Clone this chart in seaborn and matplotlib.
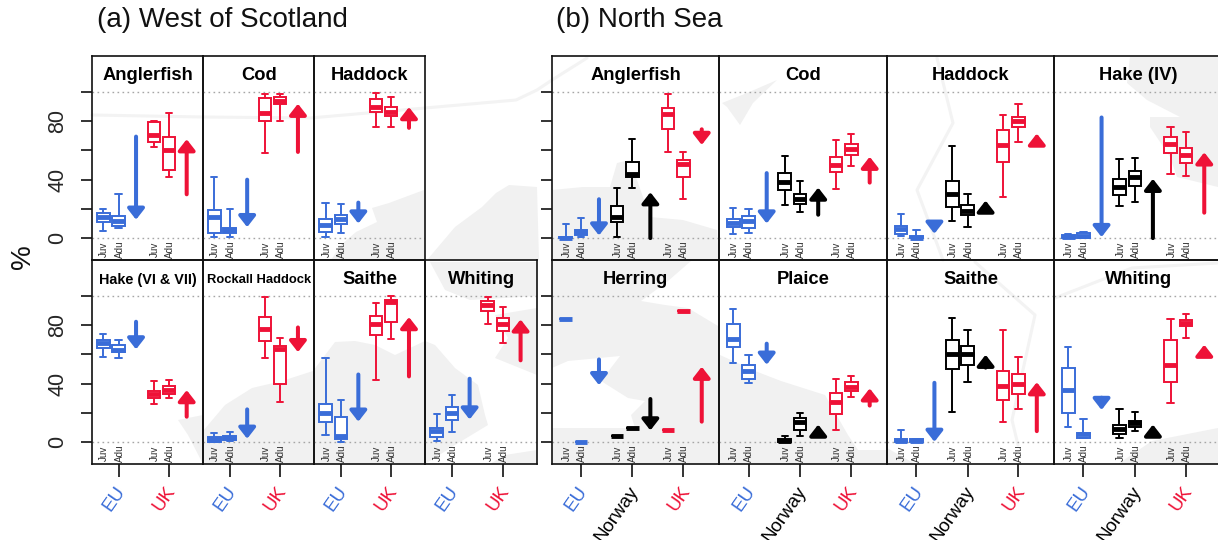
"""
Catch share boxplots by stock and party, West of Scotland and North Sea.
Every box is five numbers: whisker low, Q1, median, Q3, whisker high.
"""

import numpy as np
import pandas as pd
import matplotlib
matplotlib.use("Agg")
import matplotlib.pyplot as plt
from matplotlib.patches import Polygon
from matplotlib.transforms import ScaledTranslation
import seaborn as sns

# ── Colours ───────────────────────────────────────────────
BLUE = "#3A6DD8"
RED = "#EE1237"
BLACK = "#000000"
MAP_GREY = "#F1F1F1"
MAP_LINE_GREY = "#F3F3F3"

# ── West of Scotland: boxes are EU Juv, EU Adu, UK Juv, UK Adu ─
WS_ANGLER = [[4.8, 11, 14.5, 17, 20], [7, 8.5, 12, 15.4, 30.5],
             [62.6, 65.6, 70.6, 79.4, 80], [42, 46.6, 60.3, 69.5, 86]]
WS_ANGLER_ARROWS = [[69.5, 12.6], [30, 67.7]]
WS_COD = [[0.5, 3.4, 14.4, 19.5, 41.7], [0.7, 3.4, 5.3, 7, 20],
          [58, 80, 85.5, 96, 99], [80, 92, 94, 96.5, 99]]
WS_COD_ARROWS = [[40, 7.5], [59, 92]]
WS_HADDOCK = [[0.5, 4.4, 8.7, 13, 24], [3.7, 9.6, 13.3, 15.8, 23.6],
              [76, 86.5, 90, 95, 99.5], [76.4, 83.5, 86.5, 90, 96.3]]
WS_HADDOCK_ARROWS = [[24.3, 10], [75.5, 89.7]]
WS_HAKE = [[58, 64.6, 67.6, 70, 73.7], [57.3, 61.6, 63, 66.7, 70],
           [26, 30, 33, 35, 41.8], [30, 33, 35.6, 38.4, 42.5]]
WS_HAKE_ARROWS = [[82.4, 63.5], [17.4, 35.6]]
WS_ROCKALL = [[0.3, 0.3, 2, 3.4, 6], [0.7, 1.1, 2.5, 4.3, 7],
              [57.3, 69, 77.6, 85.6, 99.5], [27.6, 40, 63.5, 65.7, 71]]
WS_ROCKALL_ARROWS = [[22.4, 2.3], [78.5, 61.6]]
WS_SAITHE = [[5, 13.5, 20, 26, 57.5], [0.2, 2, 4, 17.4, 29],
             [42.5, 73, 81, 86.3, 95], [70.8, 82, 96, 97.5, 99.8]]
WS_SAITHE_ARROWS = [[46.3, 14], [45, 85.6]]
WS_WHITING = [[0.5, 3.4, 7.3, 9.6, 19], [7, 15, 20, 23.7, 32],
              [81, 90, 94, 96.6, 99.3], [67.8, 76, 81, 84.7, 92.7]]
WS_WHITING_ARROWS = [[43.4, 15.5], [56, 84]]

# ── North Sea: EU, Norway, UK, each Juv then Adu ──────────
NS_ANGLER = [[0, 0, 0.2, 1, 9.4], [0.9, 2.3, 4, 5.7, 13.8],
             [0.5, 11, 14.2, 21.8, 34.6], [34, 42, 43.6, 52.3, 68],
             [59, 75, 85, 88.8, 99], [26.8, 41.5, 51, 53.7, 59]]
NS_ANGLER_ARROWS = [[26.6, 1.8], [0, 31.4], [74.5, 63.8]]
NS_COD = [[3, 7.6, 10.5, 13.3, 20.6], [3.7, 7, 11.7, 15, 19.7],
          [23, 32.6, 38.5, 44.5, 56], [18, 23.4, 26.6, 30.5, 39],
          [33.7, 45, 50, 55.7, 67], [49.5, 57, 61, 64.7, 71.6]]
NS_COD_ARROWS = [[44.5, 10], [16, 34.6], [38, 55.7]]
NS_HADDOCK = [[1.6, 3, 6.4, 8, 16.5], [0, 0, 0.2, 1.6, 5.7],
              [12, 21.3, 30.5, 39, 63.3], [7.6, 15.6, 18.6, 22.7, 30.5],
              [28, 51.8, 64, 73.9, 84], [65.8, 76, 80, 83, 91.5]]
NS_HADDOCK_ARROWS = [[11, 3], [18.3, 25.7], [64.2, 71.6]]
NS_HAKE = [[0, 0, 0.5, 2.3, 3], [0.2, 0.2, 1.6, 3.7, 4],
           [22, 29.6, 35, 40.4, 54.4], [25, 36, 42, 46, 55],
           [44, 58, 64.4, 69, 76.4], [42.4, 51.4, 57, 62, 72.5]]
NS_HAKE_ARROWS = [[82.6, 0.7], [0, 40.6], [17.4, 58.7]]
NS_HERRING = [[84.2] * 5, [0.2] * 5, [4.3] * 5, [9.4] * 5, [8.4] * 5, [90] * 5]
NS_HERRING_ARROWS = [[56.6, 39], [29.5, 8], [14, 51.6]]
NS_PLAICE = [[54.3, 65, 70.8, 80.6, 91.3], [40.6, 43, 48.6, 53, 59.8],
             [0, 0, 0.5, 1.8, 3.9], [4.3, 8.4, 14, 16.4, 19.6],
             [8.4, 19.4, 27.6, 33.3, 43], [31, 35, 37.4, 40.9, 45]]
NS_PLAICE_ARROWS = [[67.4, 53], [5, 12], [25, 36.8]]
NS_SAITHE = [[0, 0, 0.9, 2.3, 8], [0, 0, 0.7, 1.8, 1.8],
             [20.8, 49.8, 60.3, 70, 84.7], [41.3, 53, 60, 66, 77],
             [14, 28.5, 38.4, 48.4, 77], [22.6, 33, 39.7, 46.3, 58]]
NS_SAITHE_ARROWS = [[40.6, 0.2], [51, 59.8], [7.5, 41]]
NS_WHITING = [[10, 19.6, 36, 51, 64.8], [3, 3, 5.3, 6.4, 15.8],
              [2.5, 5.7, 8.7, 11.4, 22.4], [7.3, 10.3, 13, 14.6, 20.8],
              [27, 40.9, 53, 70, 84], [71.2, 79.5, 81.7, 83.6, 87.9]]
NS_WHITING_ARROWS = [[30.4, 22], [4.8, 12], [59.4, 66.7]]

# name, boxes, arrows, title size
WS_TOP = [("Anglerfish", WS_ANGLER, WS_ANGLER_ARROWS, 13.2),
          ("Cod", WS_COD, WS_COD_ARROWS, 13.2),
          ("Haddock", WS_HADDOCK, WS_HADDOCK_ARROWS, 13.2)]
WS_BOTTOM = [("Hake (VI & VII)", WS_HAKE, WS_HAKE_ARROWS, 10.4),
             ("Rockall Haddock", WS_ROCKALL, WS_ROCKALL_ARROWS, 9.4),
             ("Saithe", WS_SAITHE, WS_SAITHE_ARROWS, 13.2),
             ("Whiting", WS_WHITING, WS_WHITING_ARROWS, 13.2)]
NS_TOP = [("Anglerfish", NS_ANGLER, NS_ANGLER_ARROWS, 13.2),
          ("Cod", NS_COD, NS_COD_ARROWS, 13.2),
          ("Haddock", NS_HADDOCK, NS_HADDOCK_ARROWS, 13.2),
          ("Hake (IV)", NS_HAKE, NS_HAKE_ARROWS, 13.2)]
NS_BOTTOM = [("Herring", NS_HERRING, NS_HERRING_ARROWS, 13.2),
             ("Plaice", NS_PLAICE, NS_PLAICE_ARROWS, 13.2),
             ("Saithe", NS_SAITHE, NS_SAITHE_ARROWS, 13.2),
             ("Whiting", NS_WHITING, NS_WHITING_ARROWS, 13.2)]

WS_PARTIES = ["EU", "UK"]
NS_PARTIES = ["EU", "Norway", "UK"]
PARTY_COLOURS = {"EU": BLUE, "Norway": BLACK, "UK": RED}
Y_TICKS = [0, 20, 40, 60, 80, 100]
Y_LABELS = ["0", "", "40", "", "80", ""]

# ── Layout (pixels of the 1218x540 picture) ───────────────
W, H = 1218, 540
TOP_ROW = (56, 260)
BOTTOM_ROW = (260, 464)
WS_EDGES = [92, 203, 314.3, 425.3, 537]
NS_EDGES = [551.7, 719.3, 887.3, 1054.3, 1221.8]
# slots along x in units of one box spacing
WS_SLOTS = {"EU": (0, 1, 2.14), "UK": (3.31, 4.29, 5.45)}
NS_SLOTS = {"EU": (0, 1, 2.19), "Norway": (3.37, 4.38, 5.57), "UK": (6.73, 7.74, 8.95)}
WS_XLIM = (-11.3 / 15.3, 99.7 / 15.3)
NS_XLIM = (-14 / 15.2, 153.6 / 15.2)

# ── Faint map behind the panels, picture pixels ───────────
MAP_LAND = [
    [(372, 208), (389, 203), (424, 190), (425, 260), (331, 260), (341, 245), (356, 232), (377, 222)],
    [(496, 193), (509, 185), (537, 187), (539, 260), (427, 260), (455, 227), (482, 207)],
    [(203, 431), (225, 405), (252, 388), (282, 381), (313, 371), (335, 342), (355, 341), (375, 345),
     (395, 355), (425, 341), (435, 345), (455, 368), (478, 385), (485, 415), (488, 425), (455, 445),
     (425, 464), (203, 464)],
    [(495, 358), (537, 375), (537, 308), (495, 315), (508, 338)],
    [(430, 262), (537, 262), (537, 296), (470, 300), (445, 290)],
    [(490, 464), (505, 455), (537, 450), (537, 464)],
    [(552, 261), (691, 261), (668, 281), (641, 301), (665, 305), (688, 308), (718, 326), (719, 464), (552, 464)],
    [(720, 355), (755, 371), (781, 381), (825, 395), (848, 435), (858, 450), (888, 450), (888, 464), (720, 464)],
    [(552, 190), (583, 187), (610, 187), (617, 163), (630, 160), (650, 217), (683, 220), (717, 230),
     (719, 260), (552, 260)],
    [(722, 103), (747, 93), (777, 80), (753, 103), (740, 125), (727, 107)],
    [(1130, 57), (1218, 57), (1218, 187), (1177, 177), (1170, 157), (1150, 127), (1150, 117), (1180, 117),
     (1147, 100), (1127, 83)],
    [(887, 448), (915, 464), (887, 464)],
    [(1118, 464), (1152, 441), (1218, 428), (1218, 464)],
    [(178, 420), (203, 415), (203, 464), (188, 435)],
]
MAP_WATER = [
    [(552, 368), (568, 361), (620, 356), (601, 381), (628, 398), (645, 401), (631, 415), (635, 428),
     (600, 428), (552, 428)],
]
MAP_LINES = [
    [(92, 115), (203, 117), (310, 118), (425, 108), (516, 100), (537, 90), (552, 80), (587, 58)],
    [(937, 58), (953, 123), (917, 190), (943, 260)],
    [(975, 262), (1035, 315), (1012, 420), (1018, 445)],
    [(1055, 298), (1132, 268), (1218, 263)],
]


def px_axes(fig, x0, x1, row):
    """Axes placed by picture pixels, y measured from the top."""
    y0, y1 = row
    return fig.add_axes([x0 / W, 1 - y1 / H, (x1 - x0) / W, (y1 - y0) / H])


def draw_map(fig):
    ax = fig.add_axes([0, 0, 1, 1], zorder=-1)
    ax.set_xlim(0, W)
    ax.set_ylim(H, 0)
    ax.axis("off")
    for poly in MAP_LAND:
        ax.add_patch(Polygon(poly, closed=True, fc=MAP_GREY, ec="none"))
    for poly in MAP_WATER:
        ax.add_patch(Polygon(poly, closed=True, fc="white", ec="none"))
    for line in MAP_LINES:
        ax.plot(*zip(*line), color=MAP_LINE_GREY, lw=2.2, solid_capstyle="round")


def draw_panel(ax, panel, parties, slots, xlim, show_x, left_ticks, show_y):
    name, boxes, arrows, title_size = panel
    ax.patch.set_alpha(0)
    for level in (0, 100):
        ax.axhline(level, color="#A6A6A6", lw=1.0, ls=(0, (1.2, 2.4)), zorder=1)

    for i, party in enumerate(parties):
        colour = PARTY_COLOURS[party]
        x_juv, x_adu, x_arrow = slots[party]
        juv, adu = boxes[2 * i], boxes[2 * i + 1]
        df = pd.DataFrame({"slot": [x_juv] * 5 + [x_adu] * 5, "pct": juv + adu})
        sns.boxplot(
            data=df, x="slot", y="pct", native_scale=True, ax=ax, orient="x",
            color="white", linecolor=colour, linewidth=1.4, width=0.82,
            whis=(0, 100), showfliers=False, saturation=1,
            medianprops={"linewidth": 3.5},
            zorder=3,
        )
        tail, tip = arrows[i]
        ax.annotate(
            "", xy=(x_arrow, tip), xytext=(x_arrow, tail), zorder=4,
            arrowprops=dict(arrowstyle="-|>,head_length=0.32,head_width=0.25",
                            mutation_scale=20, lw=2.9, color=colour,
                            shrinkA=0, shrinkB=0),
        )
        for x, label in ((x_juv, "Juv"), (x_adu, "Adu")):
            ax.text(x + 0.06, -7.6, label, rotation=90, ha="center", va="center",
                    fontsize=7.1, color="#303030")

    ax.set_xlim(*xlim)
    ax.set_ylim(-15, 124.7)
    ax.set_xlabel("")
    ax.set_ylabel("")
    ax.text(0.5, 111.3, name, transform=ax.get_yaxis_transform(), ha="center", va="center",
            fontsize=title_size, fontweight="bold", color="black")

    for spine in ax.spines.values():
        spine.set_linewidth(1.2)
        spine.set_color("#111111")

    if show_x:
        ax.set_xticks([slots[p][1] for p in parties])
        ax.set_xticklabels(parties, rotation=55, ha="right", va="top",
                           rotation_mode="anchor", fontsize=13.5)
        ax.tick_params(axis="x", bottom=True, length=9, width=1.2, color="#111111", pad=5)
        nudge = ScaledTranslation(-4 / 100, 0, ax.figure.dpi_scale_trans)
        for label, party in zip(ax.get_xticklabels(), parties):
            label.set_color(PARTY_COLOURS[party])
            label.set_transform(label.get_transform() + nudge)
    else:
        ax.set_xticks([])

    if left_ticks:
        ax.set_yticks(Y_TICKS)
        if show_y:
            ax.set_yticklabels(Y_LABELS, rotation=90, va="center", fontsize=15.5)
        else:
            ax.set_yticklabels([])
        ax.tick_params(axis="y", left=True, length=8, width=1.2, color="#111111", pad=9)
    else:
        ax.set_yticks([])


def draw_block(fig, top, bottom, edges, parties, slots, xlim, show_y):
    for i, panel in enumerate(top):
        ax = px_axes(fig, edges[i], edges[i + 1], TOP_ROW)
        draw_panel(ax, panel, parties, slots, xlim, False, i == 0, show_y)
    for i, panel in enumerate(bottom):
        ax = px_axes(fig, edges[i], edges[i + 1], BOTTOM_ROW)
        draw_panel(ax, panel, parties, slots, xlim, True, i == 0, show_y)


sns.set_theme(style="white")
plt.rcParams["font.family"] = ["Liberation Sans", "DejaVu Sans"]

fig = plt.figure(figsize=(W / 100, H / 100), dpi=100, facecolor="white")
draw_map(fig)
draw_block(fig, WS_TOP, WS_BOTTOM, WS_EDGES, WS_PARTIES, WS_SLOTS, WS_XLIM, True)
draw_block(fig, NS_TOP, NS_BOTTOM, NS_EDGES, NS_PARTIES, NS_SLOTS, NS_XLIM, False)

fig.text(97 / W, 1 - 20 / H, "(a) West of Scotland", fontsize=20, ha="left", va="center", color="#111111")
fig.text(556 / W, 1 - 20 / H, "(b) North Sea", fontsize=20, ha="left", va="center", color="#111111")
fig.text(23 / W, 1 - 257 / H, "%", fontsize=20, rotation=90, ha="center", va="center", color="#111111")

fig.savefig("out.png", dpi=100, facecolor="white")
